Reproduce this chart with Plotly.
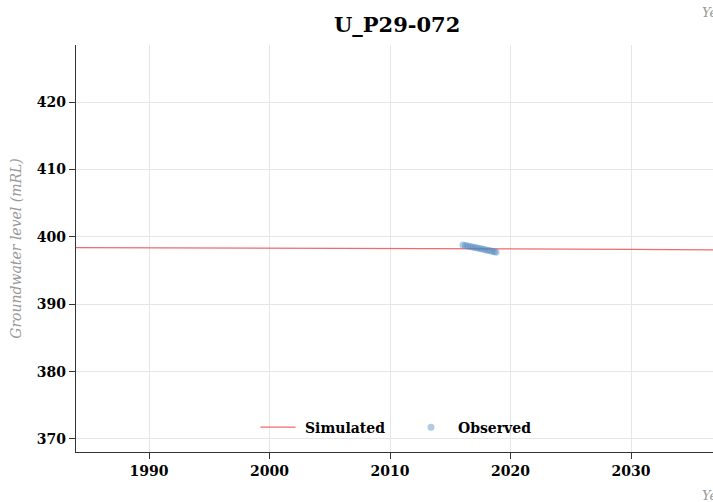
import plotly.graph_objects as go

sim_years = [1983.9, 1990, 2000, 2010, 2016, 2020, 2030, 2036.8]
sim_level = [398.40, 398.38, 398.35, 398.31, 398.28, 398.25, 398.15, 398.05]

obs_years = [2016.05, 2016.25, 2016.45, 2016.65, 2016.85, 2017.05, 2017.25, 2017.45,
             2017.65, 2017.85, 2018.05, 2018.25, 2018.45, 2018.65, 2018.8]
obs_level = [398.8, 398.7, 398.65, 398.55, 398.5, 398.4, 398.35, 398.25,
             398.2, 398.1, 398.0, 397.95, 397.85, 397.8, 397.7]

x_ticks = [1990, 2000, 2010, 2020, 2030]
y_ticks = [370, 380, 390, 400, 410, 420]

title_text = "U_P29-072"
y_title = "Groundwater level (mRL)"
x_title = "Year"
sim_name = "Simulated"
obs_name = "Observed"
serif = "'DejaVu Serif', serif"

fig = go.Figure()
fig.add_trace(go.Scatter(x=sim_years, y=sim_level, mode="lines", name="\u00a0<b>%s</b>" % sim_name,
                         line=dict(color="rgba(240,80,80,0.85)", width=1.3)))
fig.add_trace(go.Scatter(x=obs_years, y=obs_level, mode="markers", name="\u00a0<b>%s</b>" % obs_name,
                         marker=dict(color="rgba(70,130,190,0.42)", size=7, line=dict(width=0))))

fig.update_layout(
    width=713, height=502,
    margin=dict(l=76, r=0, t=45, b=50),
    paper_bgcolor="white", plot_bgcolor="white",
    title=dict(text="<b>%s</b>" % title_text, x=0.557, xanchor="center", y=0.950, yanchor="middle",
               font=dict(family=serif, size=21, color="black")),
    font=dict(family=serif),
    showlegend=True,
    legend=dict(orientation="h", x=0.522, xanchor="center", y=0.06, yanchor="middle",
                bgcolor="rgba(0,0,0,0)", font=dict(family=serif, size=14, color="black"),
                itemwidth=35, entrywidth=103, entrywidthmode="pixels", tracegroupgap=0),
    xaxis=dict(range=[1983.94, 2036.8], tickvals=x_ticks,
               ticktext=["<b>%d</b>" % v for v in x_ticks],
               showgrid=True, gridcolor="#e6e6e6", gridwidth=1,
               showline=True, linecolor="#333", linewidth=1.3,
               ticks="outside", ticklen=6, tickcolor="#333",
               tickfont=dict(family=serif, size=14, color="black"), zeroline=False),
    yaxis=dict(range=[368.07, 428.46], tickvals=y_ticks,
               ticktext=["<b>%d</b>" % v for v in y_ticks],
               showgrid=True, gridcolor="#e6e6e6", gridwidth=1,
               showline=True, linecolor="#333", linewidth=1.3,
               ticks="outside", ticklen=6, tickcolor="#333",
               tickfont=dict(family=serif, size=14, color="black"), zeroline=False,
               title=dict(text="<i>%s</i>" % y_title, font=dict(family=serif, size=14, color="#999"),
                          standoff=11)),
)

fig.add_annotation(text="<i>%s</i>" % x_title, xref="paper", yref="paper", x=0.98, y=1.081,
                   xanchor="left", yanchor="middle", showarrow=False,
                   font=dict(family=serif, size=13, color="#999"))
fig.add_annotation(text="<i>%s</i>" % x_title, xref="paper", yref="paper", x=0.98, y=-0.108,
                   xanchor="left", yanchor="middle", showarrow=False,
                   font=dict(family=serif, size=13, color="#999"))

fig.write_html("out.html", config={"displayModeBar": False},
               post_script="document.body.style.margin='0';"
                           "document.documentElement.style.overflow='hidden';"
                           "document.body.style.overflow='hidden';")
